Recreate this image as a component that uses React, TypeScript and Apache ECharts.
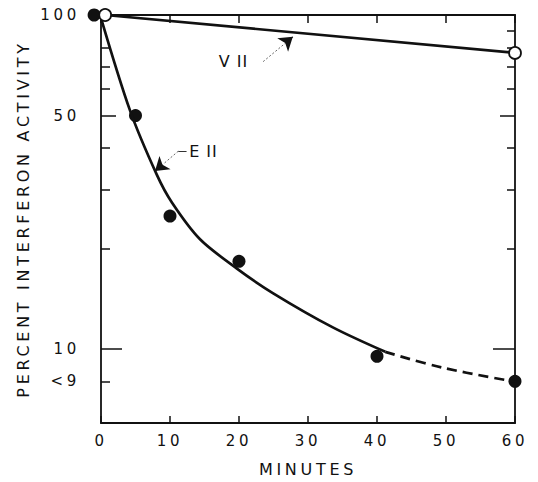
import React, { useEffect, useRef } from 'react';
import * as echarts from 'echarts';

// ---- data ----
const yLabelValues = [100, 50, 10, 8];
const yLabelTexts = ['100', '50', '10', '<9'];
const yLeftMinorTicks = [80, 70, 60, 40, 30, 20, 8];
const yRightMinorTicks = [90, 80, 70, 60, 40, 30, 20];
const yMidTicks = [50];
const yMajorTicks = [10];

const e11Minutes = [-1, 5, 10, 20, 40, 60];
const e11Activity = [100, 50, 25, 18.3, 9.5, 8];
const v11Minutes = [0.6, 60];
const v11Activity = [100, 77];
const e11FitMinutes = [0, 4.2, 8.1, 10.3, 14.35, 19.7, 24.9, 33.6, 41.2];
const e11FitActivity = [97.9, 51.8, 33.2, 27.4, 21.3, 17.4, 14.7, 11.6, 9.8];
const e11ExtrapMinutes = [41.2, 49.6, 60];
const e11ExtrapActivity = [9.8, 8.78, 7.98];

const INK = '#111';
const FONT = 'DejaVu Sans';
const LABEL_FONT = 'Verdana, DejaVu Sans';

const zip = (xs: number[], ys: number[]) => xs.map((x, i) => [x, ys[i]]);

export default function App() {
  const ref = useRef<HTMLDivElement>(null);

  useEffect(() => {
    if (!ref.current) return;
    const chart = echarts.init(ref.current, undefined, { renderer: 'svg' });
    const line = { color: INK, width: 1.8 };
    const yBase: any = {
      type: 'log',
      logBase: 10,
      min: 6,
      max: 100,
      gridIndex: 0,
      splitLine: { show: false },
      minorTick: { show: false },
      axisLabel: { show: false },
      axisLine: { show: false, onZero: false },
    };
    const tickAxis = (position: string, values: number[], length: number, showLine = false) => ({
      ...yBase,
      position,
      axisLine: { show: showLine, onZero: false, lineStyle: line },
      axisTick: { show: true, inside: true, length, customValues: values, lineStyle: { color: INK, width: 1.5 } },
    });

    const option: any = {
      animation: false,
      grid: { left: 101, right: 23, top: 15, bottom: 57, containLabel: false },
      xAxis: [
        {
          type: 'value',
          min: 0,
          max: 60,
          interval: 10,
          position: 'bottom',
          axisLine: { onZero: false, lineStyle: line },
          axisTick: { inside: true, length: 7, lineStyle: { color: INK, width: 1.5 } },
          axisLabel: { margin: 10, fontSize: 15, color: INK, fontFamily: FONT },
          splitLine: { show: false },
          name: 'MINUTES',
          nameLocation: 'middle',
          nameGap: 38,
          nameTextStyle: { fontSize: 16, color: INK, fontFamily: FONT },
        },
        {
          type: 'value',
          min: 0,
          max: 60,
          interval: 10,
          position: 'top',
          axisLine: { onZero: false, lineStyle: line },
          axisTick: { inside: true, length: 8, lineStyle: { color: INK, width: 1.5 } },
          axisLabel: { show: false },
          splitLine: { show: false },
        },
      ],
      yAxis: [
        {
          ...tickAxis('left', yLeftMinorTicks, 9, true),
          axisLabel: {
            show: true,
            customValues: yLabelValues,
            margin: 21,
            fontSize: 15,
            color: INK,
            fontFamily: FONT,
            formatter: (v: number) => {
              let best = 0;
              yLabelValues.forEach((t, i) => {
                if (Math.abs(t - v) < Math.abs(yLabelValues[best] - v)) best = i;
              });
              return yLabelTexts[best];
            },
          },
          name: 'PERCENT INTERFERON ACTIVITY',
          nameLocation: 'middle',
          nameRotate: 90,
          nameGap: 70,
          nameTextStyle: { fontSize: 16, color: INK, fontFamily: FONT },
        },
        tickAxis('left', yMidTicks, 15),
        tickAxis('left', yMajorTicks, 21),
        tickAxis('right', yRightMinorTicks, 8, true),
        tickAxis('right', yMidTicks, 15),
        tickAxis('right', yMajorTicks, 22),
      ],
      series: [
        {
          type: 'line',
          name: 'E11 fit',
          data: zip(e11FitMinutes, e11FitActivity),
          smooth: 0.3,
          showSymbol: false,
          symbol: 'none',
          lineStyle: { color: INK, width: 2.7 },
          silent: true,
          markLine: {
            silent: true,
            animation: false,
            symbol: 'none',
            label: { show: false },
            lineStyle: { color: '#666', width: 1, type: [2, 2] },
            data: [
              [{ coord: [23.5, 72.5] }, { coord: [27.0, 83.3] }],
              [
                { coord: [26.9, 83.1], symbol: 'none', lineStyle: { color: INK, type: 'solid', width: 1.2 } },
                { coord: [27.8, 86.0], symbol: 'arrow', symbolSize: 13 },
              ],
              [{ coord: [11.2, 39.1] }, { coord: [8.9, 35.6] }],
              [
                { coord: [8.84, 35.5], symbol: 'none', lineStyle: { color: INK, type: 'solid', width: 1.2 } },
                { coord: [7.83, 34.1], symbol: 'arrow', symbolSize: 13 },
              ],
              [
                { coord: [11.2, 39.1], lineStyle: { type: 'solid', color: '#333', width: 1 } },
                { coord: [12.4, 39.1] },
              ],
            ],
          },
          markPoint: {
            silent: true,
            symbol: 'rect',
            symbolSize: 1,
            itemStyle: { color: 'rgba(0,0,0,0)' },
            label: {
              show: true,
              position: 'inside',
              color: INK,
              fontSize: 16,
              fontFamily: LABEL_FONT,
              formatter: (p: any) => p.name,
            },
            data: [
              { name: 'V II', coord: [19.2, 72.7] },
              { name: 'E II', coord: [14.85, 39.1] },
            ],
          },
        },
        {
          type: 'line',
          name: 'E11 extrapolated',
          data: zip(e11ExtrapMinutes, e11ExtrapActivity),
          smooth: 0.4,
          showSymbol: false,
          symbol: 'none',
          lineStyle: { color: INK, width: 2.7, type: [10, 6] },
          silent: true,
        },
        {
          type: 'scatter',
          name: 'E11',
          data: zip(e11Minutes, e11Activity),
          symbol: 'circle',
          symbolSize: 13,
          itemStyle: { color: INK, opacity: 1 },
          clip: false,
          silent: true,
        },
        {
          type: 'line',
          name: 'V11',
          data: zip(v11Minutes, v11Activity),
          symbol: 'circle',
          symbolSize: 12,
          showSymbol: true,
          showAllSymbol: true,
          itemStyle: { color: '#fff', borderColor: INK, borderWidth: 1.8, opacity: 1 },
          lineStyle: { color: INK, width: 2.7 },
          clip: false,
          silent: true,
          z: 3,
        },
      ],
    };
    chart.setOption(option);
    return () => chart.dispose();
  }, []);

  return (
    <>
      <style>{`.ref-chart text[style*="Verdana"] { letter-spacing: 1px; }`}</style>
      <div
        ref={ref}
        className="ref-chart"
        style={{ position: 'absolute', left: 0, top: 0, width: 538, height: 482, background: '#fff', letterSpacing: '3.7px' }}
      />
    </>
  );
}
